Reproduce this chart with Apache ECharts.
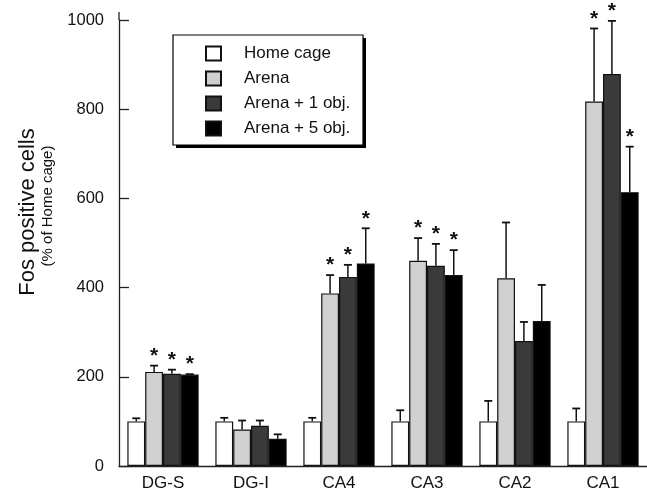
<!DOCTYPE html>
<html>
<head>
<meta charset="utf-8">
<script src="https://cdn.jsdelivr.net/npm/echarts@6/dist/echarts.min.js"></script>
<style>
  html, body { margin: 0; padding: 0; background: #fff; }
  #chart { width: 647px; height: 495px; }
</style>
</head>
<body>
<div id="chart"></div>
<script>
var categories = ['DG-S', 'DG-I', 'CA4', 'CA3', 'CA2', 'CA1'];
var seriesNames = ['Home cage', 'Arena', 'Arena + 1 obj.', 'Arena + 5 obj.'];

// mean values (% of home cage)
var homeCage = [100, 100, 100, 100, 100, 100];
var arena = [211, 82, 387, 460, 421, 817];
var arena1 = [207, 90, 424, 449, 280, 879];
var arena5 = [205, 61, 454, 428, 325, 614];

// error bar sizes (upper only)
var homeCageErr = [7, 8, 8, 25, 46, 29];
var arenaErr = [14, 20, 41, 51, 125, 164];
var arena1Err = [9, 12, 27, 49, 43, 119];
var arena5Err = [1, 10, 79, 56, 81, 102];

// significance markers (1 = *)
var homeCageSig = [0, 0, 0, 0, 0, 0];
var arenaSig = [1, 0, 1, 1, 0, 1];
var arena1Sig = [1, 0, 1, 1, 0, 1];
var arena5Sig = [1, 0, 1, 1, 0, 1];

var yTicks = [0, 200, 400, 600, 800, 1000];

var means = [homeCage, arena, arena1, arena5];
var errs = [homeCageErr, arenaErr, arena1Err, arena5Err];
var sigs = [homeCageSig, arenaSig, arena1Sig, arena5Sig];
var colors = ['#ffffff', '#d0d0d0', '#3a3a3a', '#000000'];
var FONT = '"Liberation Sans", Arial, Helvetica, sans-serif';

var chart = echarts.init(document.getElementById('chart'));

var errData = [];
for (var s = 0; s < means.length; s++) {
  for (var i = 0; i < categories.length; i++) {
    errData.push([i, s, means[s][i], means[s][i] + errs[s][i], sigs[s][i]]);
  }
}

function renderErr(params, api) {
  var cat = api.value(0);
  var s = api.value(1);
  var band = api.size([1, 0])[0];
  var barW = band * (1 - 0.19) / 4;
  var base = api.coord([cat, api.value(2)]);
  var top = api.coord([cat, api.value(3)]);
  var x = base[0] + (s - 1.5) * barW;
  var children = [
    { type: 'line', shape: { x1: x, y1: base[1], x2: x, y2: top[1] },
      style: { stroke: '#111', lineWidth: 1.5 } },
    { type: 'line', shape: { x1: x - 4, y1: top[1], x2: x + 4, y2: top[1] },
      style: { stroke: '#111', lineWidth: 1.8 } }
  ];
  if (api.value(4)) {
    children.push({
      type: 'text',
      style: { text: '*', x: x, y: top[1] + 1, align: 'center', verticalAlign: 'bottom',
               font: 'bold 21px ' + FONT, fill: '#111' }
    });
  }
  return { type: 'group', children: children };
}

var series = [];
for (var k = 0; k < means.length; k++) {
  series.push({
    name: seriesNames[k],
    type: 'bar',
    data: means[k],
    barGap: 0,
    barCategoryGap: '19%',
    itemStyle: { color: colors[k], borderColor: '#111', borderWidth: 1.2 },
    emphasis: { disabled: true },
    animation: false
  });
}
series.push({
  type: 'custom',
  renderItem: renderErr,
  data: errData,
  z: 5,
  animation: false,
  silent: true
});

var option = {
  animation: false,
  grid: { left: 119, top: 20, width: 534, height: 446 },
  legend: {
    orient: 'vertical',
    left: 173,
    top: 35,
    padding: [10, 10, 10, 32],
    itemWidth: 15,
    itemHeight: 14,
    itemGap: 8,
    icon: 'rect',
    data: seriesNames,
    selectedMode: false,
    z: 10,
    textStyle: { fontFamily: FONT, fontSize: 17, color: '#111', padding: [0, 0, 0, 18] }
  },
  xAxis: {
    type: 'category',
    data: categories,
    axisLine: { lineStyle: { color: '#222', width: 1.3 } },
    axisTick: { show: false },
    axisLabel: { fontFamily: FONT, fontSize: 17, color: '#111', margin: 9 }
  },
  yAxis: {
    type: 'value',
    min: yTicks[0],
    max: yTicks[yTicks.length - 1],
    interval: 200,
    splitLine: { show: false },
    axisLine: { show: true, lineStyle: { color: '#222', width: 1.3 } },
    axisTick: { show: true, inside: true, length: 10, lineStyle: { color: '#222', width: 1.3 } },
    axisLabel: { fontFamily: FONT, fontSize: 16.5, color: '#111', margin: 15,
                 formatter: function (v) { return String(v); } }
  },
  graphic: [
    { type: 'line', shape: { x1: 119, y1: 12, x2: 119, y2: 20 },
      style: { stroke: '#222', lineWidth: 1.3 } },
    // legend frame with drop shadow
    { type: 'rect', z: 5, shape: { x: 176, y: 38, width: 190, height: 110 },
      style: { fill: '#000' } },
    { type: 'rect', z: 6, shape: { x: 173, y: 35, width: 190, height: 110 },
      style: { fill: '#fff', stroke: '#000', lineWidth: 1.2 } },
    { type: 'text', x: 28, y: 212, rotation: Math.PI / 2,
      style: { text: 'Fos positive cells', font: '22px ' + FONT, fill: '#111',
               align: 'center', verticalAlign: 'middle' } },
    { type: 'text', x: 48, y: 206, rotation: Math.PI / 2,
      style: { text: '(% of Home cage)', font: '15px ' + FONT, fill: '#111',
               align: 'center', verticalAlign: 'middle' } }
  ],
  series: series
};

chart.setOption(option);
</script>
</body>
</html>
